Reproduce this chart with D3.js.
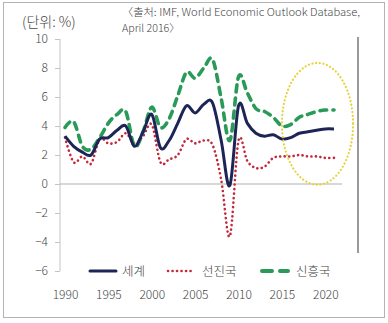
<!DOCTYPE html>
<html>
<head>
<meta charset="utf-8">
<script src="https://cdn.jsdelivr.net/npm/d3@7"></script>
<style>
  body { margin: 0; background: #fff; }
  svg text { font-family: "Noto Sans CJK KR", "Noto Sans", sans-serif; font-weight: 300; fill: #444; }
</style>
</head>
<body>
<script>
// 실질 GDP 성장률 (%), 1990-2021
var years = d3.range(1990, 2022);
var world = [3.3, 2.6, 2.2, 2.0, 3.1, 3.2, 3.7, 4.0, 2.6, 3.6, 4.8, 2.5, 3.0, 4.2, 5.4, 4.9,
             5.5, 5.6, 3.0, -0.1, 5.4, 4.2, 3.5, 3.3, 3.4, 3.1, 3.2, 3.5, 3.6, 3.7, 3.8, 3.8];
var advanced = [3.2, 1.5, 1.9, 1.4, 3.1, 2.8, 2.9, 3.5, 2.8, 3.3, 4.1, 1.5, 1.7, 2.0, 3.1, 2.8,
                3.0, 2.7, 0.3, -3.6, 3.0, 1.6, 1.1, 1.2, 1.8, 1.9, 1.9, 2.0, 1.9, 1.9, 1.8, 1.8];
var emerging = [3.9, 4.3, 2.6, 2.4, 3.2, 4.2, 4.8, 5.0, 2.6, 3.6, 5.3, 3.9, 4.5, 6.1, 7.7, 7.3,
                8.0, 8.6, 5.9, 3.0, 7.4, 6.3, 5.2, 5.0, 4.6, 4.0, 4.1, 4.6, 4.8, 5.0, 5.1, 5.1];
var yTicks = [-6, -4, -2, 0, 2, 4, 6, 8, 10];
var xTicks = [1990, 1995, 2000, 2005, 2010, 2015, 2020];
var seriesNames = ["세계", "선진국", "신흥국"];
// 전망 구간 강조 (연도, %)
var focusYears = [2015, 2023.2];
var focusValues = [-0.05, 8.35];

var width = 388, height = 323;
var svg = d3.select("body").append("svg")
    .attr("width", width)
    .attr("height", height);

var x = d3.scaleLinear().domain([1990, 2021]).range([65, 334]);
var y = d3.scaleLinear().domain([-6, 10]).range([271, 39]);

// frame
svg.append("rect")
    .attr("x", 3.5).attr("y", 2.5)
    .attr("width", 381).attr("height", 315)
    .attr("fill", "none").attr("stroke", "#b4b4b4");

svg.append("line")
    .attr("x1", 358).attr("x2", 358)
    .attr("y1", 37).attr("y2", 253)
    .attr("stroke", "#9a9a9a").attr("stroke-width", 2);

// titles
svg.append("text").attr("x", 22).attr("y", 27)
    .style("font-size", "14px").text("(단위: %)");
svg.append("text").attr("x", 122).attr("y", 16)
    .style("font-size", "10.5px").attr("textLength", 238).attr("lengthAdjust", "spacingAndGlyphs")
    .text("〈출처: IMF, World Economic Outlook Database,");
svg.append("text").attr("x", 122).attr("y", 31.5)
    .style("font-size", "10.5px").attr("textLength", 58).attr("lengthAdjust", "spacingAndGlyphs")
    .text("April 2016〉");

// y axis
var yAxis = d3.axisLeft(y).tickValues(yTicks).tickSize(5).tickPadding(7)
    .tickFormat(function (d) { return d < 0 ? "\u2212" + Math.abs(d) : d; });
var gy = svg.append("g").attr("transform", "translate(60,0)").call(yAxis);
gy.select(".domain").attr("stroke", "#c4c4c4").attr("d", "M0," + y(10) + "V" + y(-6));
gy.selectAll(".tick line").attr("stroke", "#c4c4c4");
gy.selectAll(".tick text").style("font-size", "12px").attr("fill", "#555");

// zero line
svg.append("line")
    .attr("x1", 60).attr("x2", 342)
    .attr("y1", y(0)).attr("y2", y(0))
    .attr("stroke", "#b0b0b0");

// x labels
var xAxis = d3.axisBottom(x).tickValues(xTicks).tickSize(0).tickFormat(d3.format("d"));
var gx = svg.append("g").attr("transform", "translate(0,287)").call(xAxis);
gx.select(".domain").remove();
gx.selectAll(".tick text").style("font-size", "12px").attr("fill", "#555");

var line = function (vals) {
    return d3.line()
        .x(function (d, i) { return x(years[i]); })
        .y(function (d) { return y(d); })
        .curve(d3.curveCardinal.tension(0))(vals);
};

var styles = [
    { color: "#1c2556", width: 3, dash: null },
    { color: "#c3283d", width: 2.6, dash: "0.1 4.4" },
    { color: "#2a9a58", width: 3.6, dash: "7 6" }
];

svg.append("path").attr("d", line(advanced))
    .attr("fill", "none").attr("stroke", styles[1].color)
    .attr("stroke-width", styles[1].width).attr("stroke-dasharray", styles[1].dash)
    .attr("stroke-linecap", "round");
svg.append("path").attr("d", line(emerging))
    .attr("fill", "none").attr("stroke", styles[2].color)
    .attr("stroke-width", styles[2].width).attr("stroke-dasharray", styles[2].dash)
    .attr("stroke-linecap", "round");
svg.append("path").attr("d", line(world))
    .attr("fill", "none").attr("stroke", styles[0].color)
    .attr("stroke-width", styles[0].width).attr("stroke-linejoin", "round");

// highlight ellipse
svg.append("ellipse")
    .attr("cx", (x(focusYears[0]) + x(focusYears[1])) / 2)
    .attr("cy", (y(focusValues[0]) + y(focusValues[1])) / 2)
    .attr("rx", (x(focusYears[1]) - x(focusYears[0])) / 2)
    .attr("ry", (y(focusValues[0]) - y(focusValues[1])) / 2)
    .attr("fill", "none").attr("stroke", "#e6d23c")
    .attr("stroke-width", 2.2).attr("stroke-dasharray", "0.1 3.6")
    .attr("stroke-linecap", "round");

// legend
var legendX = [90, 168, 262];
var legend = svg.append("g").attr("transform", "translate(0,271)");
seriesNames.forEach(function (name, i) {
    var s = styles[i];
    legend.append("line")
        .attr("x1", legendX[i]).attr("x2", legendX[i] + 26)
        .attr("stroke", s.color).attr("stroke-width", i === 2 ? 4 : s.width)
        .attr("stroke-dasharray", i === 2 ? "10 8" : s.dash)
        .attr("stroke-linecap", "round");
    legend.append("text")
        .attr("x", legendX[i] + (i === 0 ? 32 : 34)).attr("y", 4.5)
        .style("font-size", "12.5px").text(name);
});
</script>
</body>
</html>
